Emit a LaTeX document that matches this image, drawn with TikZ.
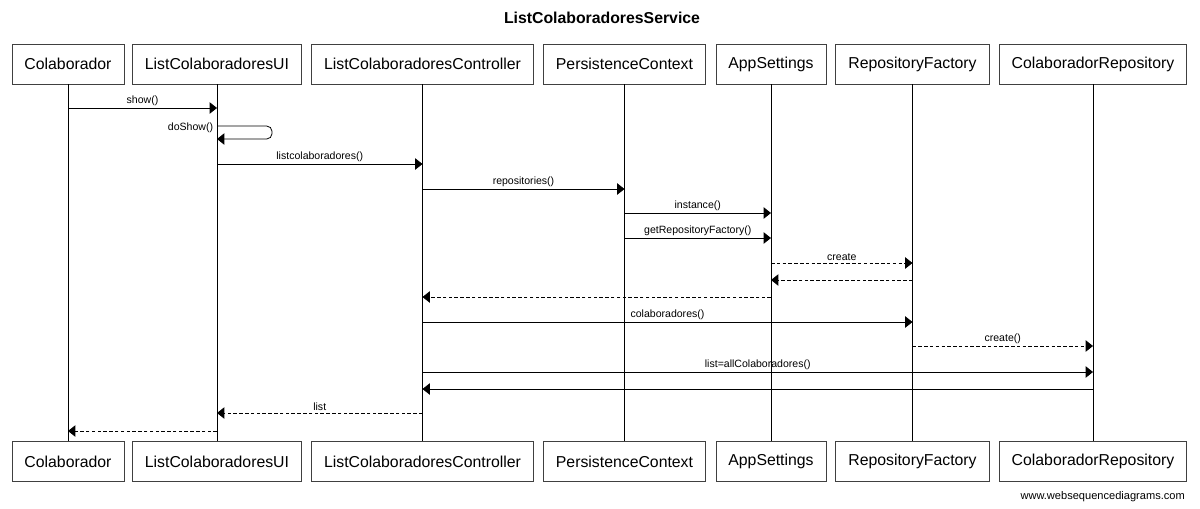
\documentclass[tikz,border=0pt]{standalone}
\usepackage{fontspec}
\setmainfont{Liberation Sans}
\usetikzlibrary{arrows.meta}

\begin{document}
\begin{tikzpicture}[x=0.02cm,y=-0.02cm,
    actorstyle/.style={rectangle,draw=black!75,line width=0.45pt,minimum height=22.7pt,inner xsep=7.1pt,font=\fontsize{9}{10}\selectfont},
    lifestyle/.style={line width=0.45pt},
    callstyle/.style={line width=0.45pt,-{Triangle[length=4.2pt,width=6.5pt]}},
    replystyle/.style={callstyle,dash pattern=on 2pt off 1.3pt},
    msgstyle/.style={above,inner sep=1pt,font=\fontsize{6}{7}\selectfont}]
    \useasboundingbox (0,0) rectangle (1200,508);
    \node[font=\bfseries\fontsize{9}{10}\selectfont] (title) at (602,18) {ListColaboradoresService};
    % participants, top and bottom
    \foreach \n/\x/\t in {col/68/Colaborador,ui/217/ListColaboradoresUI,ctrl/422.5/ListColaboradoresController,pc/624.5/PersistenceContext,app/771/AppSettings,rf/912.5/RepositoryFactory,cr/1093/ColaboradorRepository}
    {
	\node[actorstyle] (\n) at (\x,64) {\t};
	\node[actorstyle] (\n-end) at (\x,461.5) {\t};
	\draw[lifestyle] (\n) -- (\n-end);
    }
    % calls
    \foreach \a/\b/\y/\t in {col/ui/108/show(),ui/ctrl/164/listcolaboradores(),ctrl/pc/189/repositories(),pc/app/213/instance(),pc/app/238/getRepositoryFactory(),ctrl/rf/322/colaboradores(),ctrl/cr/372/list=allColaboradores(),cr/ctrl/389/{}}
    {
	\coordinate (row\y) at (0,\y);
	\draw[callstyle] (\a|-row\y) -- (\b|-row\y) node[msgstyle,midway] {\t};
    }
    % replies
    \foreach \a/\b/\y/\t in {app/rf/263/create,rf/app/280/{},app/ctrl/297/{},rf/cr/346/create(),ctrl/ui/413/list,ui/col/431/{}}
    {
	\coordinate (row\y) at (0,\y);
	\draw[replystyle] (\a|-row\y) -- (\b|-row\y) node[msgstyle,midway] {\t};
    }
    % self call
    \coordinate (row126) at (0,126);
    \coordinate (row139) at (0,139);
    \draw[callstyle,rounded corners=3pt] (ui|-row126) node[anchor=east,inner sep=2pt,yshift=-1pt,font=\fontsize{6}{7}\selectfont] (doshow) {doShow()}
	-- ++(55,0) -- ++(0,13) -- (ui|-row139);
    \node[anchor=east,font=\fontsize{6.3}{7}\selectfont] (site) at (1191,497) {www.websequencediagrams.com};
\end{tikzpicture}
\end{document}
